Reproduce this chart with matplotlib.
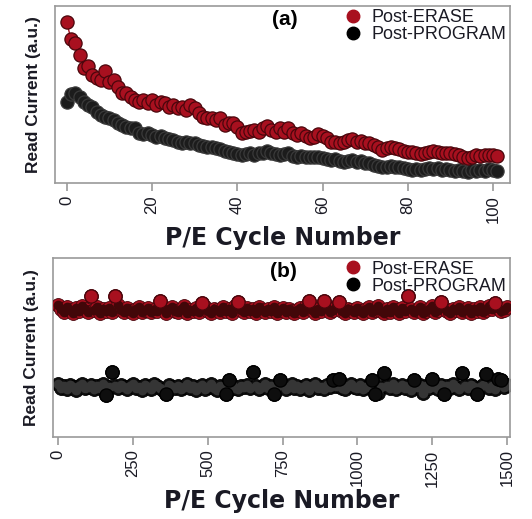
import matplotlib

matplotlib.use("Agg")
import matplotlib.pyplot as plt
import numpy as np
from matplotlib.lines import Line2D

# panel (a): first 100 cycles, read current in arbitrary units
cycles_a = list(range(0, 102))
erase_a = [
    161, 144, 140, 128, 115, 117, 108, 105, 103, 112,
    101, 103, 96, 90, 90, 86, 83, 81, 83, 80,
    83, 78, 81, 80, 76, 78, 75, 76, 73, 78,
    75, 70, 66, 65, 65, 63, 65, 58, 60, 60,
    56, 50, 51, 52, 53, 51, 55, 57, 53, 51,
    55, 51, 55, 50, 48, 50, 47, 45, 46, 49,
    47, 45, 41, 41, 40, 41, 43, 44, 41, 42,
    40, 40, 38, 36, 33, 35, 36, 35, 34, 32,
    31, 31, 30, 29, 30, 31, 32, 31, 30, 30,
    30, 29, 28, 26, 25, 26, 28, 27, 28, 28,
    28, 27,
]
program_a = [
    81, 89, 90, 86, 81, 78, 76, 71, 68, 66,
    65, 63, 60, 58, 56, 55, 55, 50, 49, 50,
    48, 46, 47, 45, 44, 43, 41, 40, 41, 40,
    40, 38, 37, 36, 36, 35, 34, 32, 31, 30,
    29, 28, 29, 30, 28, 30, 30, 32, 30, 29,
    28, 29, 30, 27, 26, 27, 26, 26, 26, 26,
    25, 24, 23, 24, 22, 21, 22, 23, 21, 22,
    20, 20, 18, 17, 16, 16, 17, 16, 16, 15,
    14, 13, 14, 13, 14, 15, 14, 15, 13, 14,
    13, 12, 13, 12, 11, 13, 12, 13, 12, 14,
    13, 12,
]

# panel (b): 1500 cycles, sampled every 10 cycles
cycles_b = list(range(0, 1501, 10))
erase_b = [
    133, 129, 126, 131, 128, 125, 130, 127, 132, 129,
    126, 142, 128, 131, 125, 129, 127, 130, 126, 142,
    133, 128, 126, 130, 127, 125, 129, 131, 126, 128,
    130, 126, 128, 127, 137, 130, 125, 129, 131, 127,
    126, 129, 132, 125, 128, 127, 130, 126, 135, 131,
    127, 125, 129, 128, 126, 131, 127, 129, 125, 132,
    136, 128, 126, 130, 127, 129, 125, 131, 128, 126,
    129, 127, 131, 125, 128, 130, 126, 129, 127, 125,
    128, 130, 126, 132, 137, 128, 125, 129, 127, 137,
    130, 126, 128, 131, 136, 127, 125, 129, 128, 126,
    130, 127, 125, 129, 131, 126, 128, 132, 127, 125,
    129, 126, 131, 128, 125, 130, 127, 142, 129, 126,
    128, 131, 125, 127, 129, 132, 126, 128, 136, 130,
    127, 125, 129, 128, 131, 126, 128, 130, 125, 129,
    127, 131, 126, 128, 132, 129, 135, 130, 127, 128,
    131,
]
program_b = [
    53, 49, 51, 48, 52, 50, 47, 51, 53, 49,
    50, 52, 48, 51, 49, 53, 42, 50, 65, 51,
    49, 52, 50, 48, 51, 53, 49, 50, 47, 52,
    50, 48, 53, 51, 49, 47, 43, 52, 50, 49,
    51, 48, 50, 53, 49, 51, 47, 50, 52, 48,
    50, 53, 49, 47, 51, 50, 43, 57, 52, 49,
    48, 51, 50, 52, 49, 65, 51, 48, 50, 53,
    49, 51, 43, 50, 57, 52, 48, 50, 53, 49,
    51, 48, 50, 52, 47, 51, 53, 49, 50, 48,
    52, 50, 57, 51, 58, 49, 48, 51, 53, 50,
    49, 52, 48, 50, 51, 57, 43, 44, 50, 64,
    51, 49, 53, 48, 50, 52, 49, 51, 47, 57,
    50, 52, 44, 51, 49, 58, 50, 48, 52, 43,
    51, 49, 53, 50, 48, 64, 51, 49, 52, 50,
    43, 50, 52, 63, 49, 51, 48, 58, 57, 50,
    52,
]

ticks_a = [0, 20, 40, 60, 80, 100]
ticks_b = [0, 250, 500, 750, 1000, 1250, 1500]

RED, RED_EDGE = "#a8101f", "#4a060c"
BLK, BLK_EDGE = "#1c1c1c", "#3a3a3a"
TEXT = "#1a1a24"
TICK_FONT = ["Liberation Sans Narrow", "Liberation Sans"]


def style_axes(ax, ticks, label):
    for s in ax.spines.values():
        s.set_color("#9a9a9a")
        s.set_linewidth(1.2)
    ax.set_yticks([])
    ax.set_xticks(ticks)
    ax.set_xticklabels([str(t) for t in ticks], rotation=90,
                       family=TICK_FONT, fontsize=12, color=TEXT)
    ax.tick_params(axis="x", length=6, width=1.2, color="#9a9a9a", pad=3)
    ax.set_ylabel("Read Current (a.u.)", family="Liberation Sans",
                  fontweight="bold", fontsize=12.5, color=TEXT, labelpad=10)
    ax.set_xlabel("P/E Cycle Number", family="DejaVu Sans", fontweight="bold",
                  fontsize=17, color=TEXT, labelpad=2)
    ax.text(0.505, 0.925, label, transform=ax.transAxes, ha="center",
            va="center", fontsize=15, fontweight="bold",
            family="Liberation Sans")
    handles = [
        Line2D([], [], ls="none", marker="o", ms=9, mfc=RED, mec=RED),
        Line2D([], [], ls="none", marker="o", ms=9, mfc="black", mec="black"),
    ]
    leg = ax.legend(handles, ["Post-ERASE", "Post-PROGRAM"],
                    loc="upper right", bbox_to_anchor=(1.015, 1.045),
                    frameon=False, handletextpad=0.4, labelspacing=0.0,
                    prop={"family": "Liberation Sans", "size": 13},
                    handlelength=1.2, borderaxespad=0.2)
    for t in leg.get_texts():
        t.set_color(TEXT)


def dense_band(ax, x, y, fill, edge, core, z):
    """Heavily overlapping markers: dark core, coloured rims, outliers on top."""
    x, y = np.asarray(x), np.asarray(y)
    ax.plot(x, y, "o", mfc=fill, mec=edge, ms=10, mew=0.6, zorder=z)
    ax.plot(x, y, "o", mfc=core, mec=core, ms=7, mew=0, zorder=z + 0.1)
    far = np.abs(y - np.median(y)) > 6
    ax.plot(x[far], y[far], "o", mfc=fill, mec=edge, ms=9.5, mew=0.9,
            zorder=z + 0.2)


fig = plt.figure(figsize=(5.32, 5.19), dpi=100)

ax_a = fig.add_axes([0.103, 0.647, 0.856, 0.341])
ax_a.plot(cycles_a, erase_a, "-o", color=RED, mfc=RED, mec=RED_EDGE,
          ms=9.5, mew=0.9, lw=1, zorder=3)
ax_a.plot(cycles_a, program_a, "-o", color=BLK, mfc=BLK, mec=BLK_EDGE,
          ms=9.5, mew=0.9, lw=1, zorder=2)
ax_a.set_xlim(-2.8, 104)
ax_a.set_ylim(0, 177)
style_axes(ax_a, ticks_a, "(a)")

ax_b = fig.add_axes([0.0996, 0.158, 0.859, 0.345])
dense_band(ax_b, cycles_b, erase_b, RED, RED_EDGE, "#420709", 3)
dense_band(ax_b, cycles_b, program_b, "#0e0e0e", "#000000", "#353535", 2)
ax_b.set_xlim(-17, 1510)
ax_b.set_ylim(0, 180)
style_axes(ax_b, ticks_b, "(b)")

fig.savefig("out.png", dpi=100)
plt.close(fig)
